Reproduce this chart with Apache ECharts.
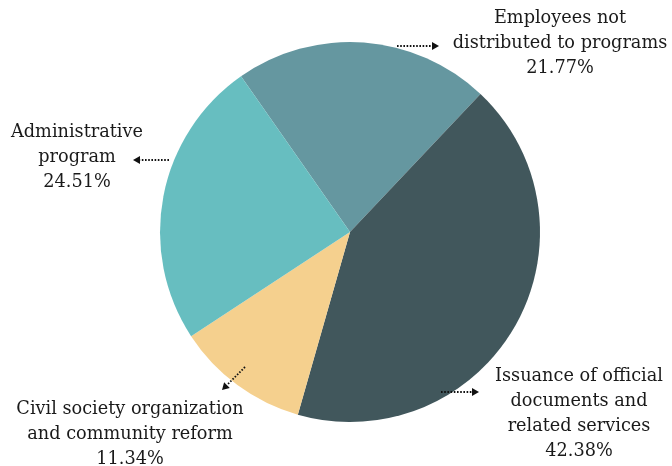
<!DOCTYPE html>
<html><head><meta charset="utf-8">
<script src="https://cdn.jsdelivr.net/npm/echarts@6/dist/echarts.min.js"></script>
<style>html,body{margin:0;padding:0;background:#fff}#c{width:672px;height:466px}</style>
</head><body><div id="c"></div>
<script>
const categories = [
  'Employees not\ndistributed to programs',
  'Issuance of official\ndocuments and\nrelated services',
  'Civil society organization\nand community reform',
  'Administrative\nprogram'
];
const values = [21.77, 42.38, 11.34, 24.51];
const colors = ['#6597a0', '#41575c', '#f5d08e', '#67bec0'];

const labelPos = [[560, 43], [579, 414], [130, 434], [77, 157]];
const arrows = [
  {from: [397, 46], to: [439, 46]},
  {from: [441, 392], to: [479, 392]},
  {from: [245, 367], to: [222, 390]},
  {from: [169, 160], to: [133, 160]}
];

const chart = echarts.init(document.getElementById('c'), null, {renderer: 'canvas'});
const graphics = [];
arrows.forEach(a => {
  const dx = a.to[0] - a.from[0], dy = a.to[1] - a.from[1];
  const len = Math.sqrt(dx*dx + dy*dy);
  const ux = dx/len, uy = dy/len;
  const hl = 7, hw = 4;
  const bx = a.to[0] - ux*hl, by = a.to[1] - uy*hl;
  graphics.push({
    type: 'line', z: 100,
    shape: {x1: a.from[0], y1: a.from[1], x2: bx, y2: by},
    style: {stroke: '#111', lineWidth: 1.8, lineDash: [1.6, 1.6]}
  });
  graphics.push({
    type: 'polygon', z: 100,
    shape: {points: [[a.to[0], a.to[1]], [bx - uy*hw, by + ux*hw], [bx + uy*hw, by - ux*hw]]},
    style: {fill: '#111'}
  });
});

chart.setOption({
  animation: false,
  graphic: graphics,
  series: [{
    type: 'pie',
    center: [350, 232],
    radius: 190,
    startAngle: 125,
    clockwise: true,
    data: categories.map((n, i) => ({name: n, value: values[i], itemStyle: {color: colors[i]}})),
    label: {
      show: true,
      formatter: p => p.name + '\n' + p.value.toFixed(2) + '%',
      fontFamily: 'DejaVu Serif',
      fontSize: 17.7,
      lineHeight: 25,
      color: '#1a1a1a',
      align: 'center',
      overflow: 'none',
      width: 400
    },
    labelLine: {show: false},
    labelLayout: p => ({
      x: labelPos[p.dataIndex][0],
      y: labelPos[p.dataIndex][1],
      align: 'center',
      verticalAlign: 'middle'
    })
  }]
});
</script></body></html>
